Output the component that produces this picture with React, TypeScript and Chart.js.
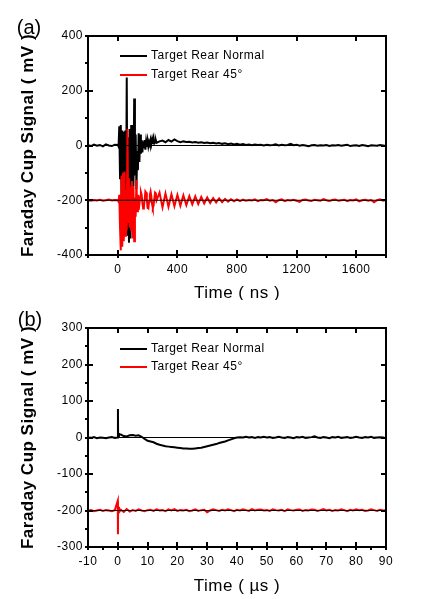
import React, { useEffect, useRef } from "react";
import { Chart, registerables } from "chart.js";

Chart.register(...registerables);

const FONT = "'Liberation Sans', Arial, sans-serif";

// ---------- Panel (a): time in ns ----------
const legendLabels = ["Target Rear Normal", "Target Rear 45°"];
const seriesColors = ["#000000", "#ff0000"];

const xTicksA = [0, 400, 800, 1200, 1600];
const xMinorA = [-200, 200, 600, 1000, 1400, 1800];
const yTicksA = [-400, -200, 0, 200, 400];
const yMinorA = [-300, -100, 100, 300];
const xRangeA = [-200, 1800];
const yRangeA = [-400, 400];
const baselinesA = [0, -200];

const timePreA = [-200, -180, -160, -140, -120, -100, -80, -60, -40, -20];
// burst sampled 0..260 ns every 5 ns, tail 280..1800 ns every 20 ns
const normalPreA = [1, -2, 3, -1, 2, -3, 4, 0, -2, 3];
const normalBurstA = [
  2, -4, 70, -120, 75, -190, 55, -230, 50, -160,
  55, -280, 248, -330, 30, -355, 60, -340, 75, -200,
  -60, -150, 172, -110, 40, -160, -20, -90, 45, -60,
  40, -30, 20, -25, 15, -10, 20, -15, 15, -5,
  18, -3, 12, 2, 20, 5, 22, 6, 25, 8,
  12, 20, 10,
];
const normalTailA = [
  15, 18, 12, 20, 14, 22, 16, 12, 15, 13,
  14, 11, 13, 10, 12, 9, 11, 8, 10, 7,
  9, 6, 8, 5, 7, 4, 6, 3, 5, 2,
  4, 1, 4, 2, 3, 0, 3, 1, 2, 4,
  0, 3, 1, 2, 6, 1, 3, -1, 2, 0,
  -3, 1, 2, -1, 1, 0, 2, -2, 1, 0,
  2, -1, 1, 3, -2, 0, 1, -2, 2, 0,
  -3, 1, 0, -1, 2, 0, -2,
];
const rearPreA = [-200, -202, -199, -201, -198, -202, -200, -197, -201, -199];
const rearBurstA = [
  -200, -205, -180, -300, -383, -110, -370, -100, -350, -95,
  -330, -160, -310, 60, -280, -120, -300, -150, -310, -130,
  -340, -150, -350, -190, -260, -125, -240, -180,
  -235, -215, -185, -170, -180, -210, -230, -225, -200, -168,
  -172, -200, -228, -230, -205, -180, -168, -185, -215, -228,
  -220, -195, -172, -175, -200,
];
const rearTailA = [
  -172, -226, -175, -224, -178, -222, -180, -220, -182, -218,
  -185, -215, -186, -214, -188, -212, -190, -210, -192, -208,
  -193, -207, -195, -205, -196, -204, -197, -203, -198, -202,
  -199, -201, -197, -203, -199, -200, -196, -202, -199, -207,
  -200, -197, -203, -199, -201, -198, -202, -206, -199, -197,
  -201, -203, -198, -200, -202, -196, -200, -203, -199, -197,
  -202, -200, -198, -203, -199, -201, -197, -204, -200, -198,
  -202, -199, -207, -200, -197, -202, -199,
];

// ---------- Panel (b): time in µs ----------
const xTicksB = [-10, 0, 10, 20, 30, 40, 50, 60, 70, 80, 90];
const xMinorB = [-5, 5, 15, 25, 35, 45, 55, 65, 75, 85];
const yTicksB = [-300, -200, -100, 0, 100, 200, 300];
const yMinorB = [-250, -150, -50, 50, 150, 250];
const xRangeB = [-10, 90];
const yRangeB = [-300, 300];
const baselinesB = [0, -200];

const timeSpikeB = [0, 0.05, 0.1, 0.4];
const normalPreB = [0, -1, 1, -2, 0, -1, -2, 0, 1, -1];
const normalSpikeB = [0, 78, 12, 8];
const normalTailB = [
  8, 4, 3, 6, 7, 5, 6, 2, -4, -9,
  -11, -13, -17, -20, -22, -24, -25, -26, -27, -28,
  -29, -30, -30, -31, -31, -30, -29, -28, -26, -24,
  -22, -20, -18, -15, -13, -11, -8, -5, -2, 0,
  1, 0, 2, 0, 1, -1, 1, 0, 2, 0,
  1, -1, 0, 2, 0, -1, 1, 0, -2, 1,
  0, 2, -1, 0, 1, 3, 0, -1, 1, 0,
  -2, 1, 0, 2, -1, 0, 1, -1, 0, 2,
  0, -1, 1, 0, 2, -1, 0, 1, 0, -2,
];
const rearPreB = [-201, -199, -202, -200, -198, -201, -199, -200, -202, -199];
const rearSpikeB = [-173, -265, -190, -205];
const rearTailB = [
  -198, -204, -196, -203, -199, -201, -197, -200, -202, -199,
  -198, -201, -197, -200, -199, -202, -197, -200, -196, -201,
  -199, -200, -198, -202, -200, -197, -201, -199, -198, -205,
  -200, -197, -199, -201, -198, -200, -197, -199, -202, -198,
  -200, -197, -199, -201, -196, -200, -198, -197, -200, -199,
  -201, -197, -199, -200, -198, -202, -197, -199, -200, -198,
  -197, -201, -199, -200, -197, -198, -201, -199, -196, -200,
  -198, -201, -199, -200, -197, -199, -202, -198, -200, -197,
  -199, -198, -201, -200, -197, -199, -201, -198, -200, -199,
];

function steps(a: number, b: number, s: number): number[] {
  const out: number[] = [];
  for (let t = a; t <= b + 1e-9; t += s) out.push(Math.round(t * 100) / 100);
  return out;
}

const timeA = [...timePreA, ...steps(0, 260, 5), ...steps(280, 1800, 20)];
const normalA = [...normalPreA, ...normalBurstA, ...normalTailA];
const rearA = [...rearPreA, ...rearBurstA, ...rearTailA];

const timeB = [...steps(-10, -1, 1), ...timeSpikeB, ...steps(1, 90, 1)];
const normalB = [...normalPreB, ...normalSpikeB, ...normalTailB];
const rearB = [...rearPreB, ...rearSpikeB, ...rearTailB];

const pts = (xs: number[], ys: number[]) => xs.map((x, i) => ({ x, y: ys[i] }));

type Panel = {
  times: number[];
  normal: number[];
  rear: number[];
  xRange: number[];
  yRange: number[];
  xTicks: number[];
  yTicks: number[];
  xMinor: number[];
  yMinor: number[];
  baselines: number[];
  xTitle: string;
  label: string;
  height: number;
  padTop: number;
  xAxisH: number;
  xTitlePad: number;
  legendY: number[];
  labelPos: number[];
};

const panels: Panel[] = [
  {
    times: timeA, normal: normalA, rear: rearA,
    xRange: xRangeA, yRange: yRangeA, xTicks: xTicksA, yTicks: yTicksA,
    xMinor: xMinorA, yMinor: yMinorA, baselines: baselinesA,
    xTitle: "Time ( ns )", label: "(a)",
    height: 300, padTop: 36, xAxisH: 45, xTitlePad: 0,
    legendY: [56, 75], labelPos: [29, 28],
  },
  {
    times: timeB, normal: normalB, rear: rearB,
    xRange: xRangeB, yRange: yRangeB, xTicks: xTicksB, yTicks: yTicksB,
    xMinor: xMinorB, yMinor: yMinorB, baselines: baselinesB,
    xTitle: "Time ( \u00b5s )", label: "(b)",
    height: 299, padTop: 28, xAxisH: 52, xTitlePad: 6.2,
    legendY: [49, 67], labelPos: [30, 20],
  },
];

const decorPlugin = {
  id: "decor",
  beforeDraw(chart: any) {
    chart.ctx.letterSpacing = "0.5px";
  },
  afterDraw(chart: any, _args: any, o: any) {
    const { ctx, chartArea, scales } = chart;
    const { left, right, top, bottom } = chartArea;
    const x = scales.x;
    const y = scales.y;
    ctx.save();
    ctx.strokeStyle = "#000";
    ctx.lineWidth = 2;
    ctx.strokeRect(left, top, right - left, bottom - top);
    ctx.beginPath();
    for (const t of x.ticks) {
      const px = Math.round(x.getPixelForValue(t.value));
      ctx.moveTo(px, bottom + 3);
      ctx.lineTo(px, bottom - 5);
      ctx.moveTo(px, top);
      ctx.lineTo(px, top + 5);
    }
    for (const v of o.xMinor) {
      const px = Math.round(x.getPixelForValue(v));
      ctx.moveTo(px, bottom);
      ctx.lineTo(px, bottom + 3);
    }
    for (const t of y.ticks) {
      const py = Math.round(y.getPixelForValue(t.value));
      ctx.moveTo(left - 3, py);
      ctx.lineTo(left + 5, py);
      ctx.moveTo(right - 5, py);
      ctx.lineTo(right, py);
    }
    for (const v of o.yMinor) {
      const py = Math.round(y.getPixelForValue(v));
      ctx.moveTo(left - 3, py);
      ctx.lineTo(left, py);
    }
    ctx.stroke();

    // legend inside the plot
    ctx.font = `12px ${FONT}`;
    ctx.textBaseline = "middle";
    ctx.textAlign = "left";
    o.legendY.forEach((ly: number, i: number) => {
      ctx.strokeStyle = seriesColors[i];
      ctx.lineWidth = 2;
      ctx.beginPath();
      ctx.moveTo(left + 32, ly);
      ctx.lineTo(left + 59, ly);
      ctx.stroke();
      ctx.fillStyle = "#000";
      ctx.fillText(legendLabels[i], left + 63, ly);
    });

    // panel label
    ctx.letterSpacing = "0px";
    ctx.font = `20px ${FONT}`;
    ctx.textAlign = "center";
    ctx.fillStyle = "#000";
    ctx.fillText(o.label, o.labelPos[0], o.labelPos[1]);
    ctx.restore();
  },
};

function PanelChart({ p, top }: { p: Panel; top: number }) {
  const ref = useRef<HTMLCanvasElement | null>(null);
  useEffect(() => {
    if (!ref.current) return;
    const lineDs = (label: string, data: any[], color: string, width: number, order: number) => ({
      label,
      data,
      borderColor: color,
      backgroundColor: color,
      borderWidth: width,
      pointRadius: 0,
      tension: 0,
      fill: false,
      order,
    });
    const chart = new Chart(ref.current, {
      type: "line",
      data: {
        datasets: [
          lineDs(legendLabels[0], pts(p.times, p.normal), seriesColors[0], 2, 3),
          lineDs(legendLabels[1], pts(p.times, p.rear), seriesColors[1], 2, 2),
          ...p.baselines.map((b) =>
            lineDs("base", [{ x: p.xRange[0], y: b }, { x: p.xRange[1], y: b }], "#000", 1, 1)
          ),
        ],
      },
      options: {
        animation: false,
        responsive: false,
        events: [],
        layout: { padding: { left: 0, top: p.padTop, right: 62, bottom: 0 } },
        plugins: {
          legend: { display: false },
          tooltip: { enabled: false },
          decor: { xMinor: p.xMinor, yMinor: p.yMinor, legendY: p.legendY, label: p.label, labelPos: p.labelPos },
        } as any,
        scales: {
          x: {
            type: "linear",
            min: p.xRange[0],
            max: p.xRange[1],
            afterBuildTicks: (s: any) => { s.ticks = p.xTicks.map((v) => ({ value: v })); },
            afterFit: (s: any) => { s.height = p.xAxisH; },
            grid: { display: false, drawTicks: false },
            border: { display: false },
            ticks: {
              padding: 7,
              color: "#000",
              autoSkip: false,
              maxRotation: 0,
              font: { family: FONT, size: 12 },
              callback: (v: any) => String(v),
            },
            title: {
              display: true,
              text: p.xTitle,
              color: "#000",
              font: { family: FONT, size: 17, lineHeight: 0.8 },
              padding: { top: 0, bottom: p.xTitlePad },
            },
          },
          y: {
            type: "linear",
            min: p.yRange[0],
            max: p.yRange[1],
            afterBuildTicks: (s: any) => { s.ticks = p.yTicks.map((v) => ({ value: v })); },
            afterFit: (s: any) => { s.width = 88; },
            grid: { display: false, drawTicks: false },
            border: { display: false },
            ticks: {
              padding: 5,
              color: "#000",
              autoSkip: false,
              font: { family: FONT, size: 12 },
              callback: (v: any) => String(v),
            },
            title: {
              display: true,
              text: "Faraday Cup Signal ( mV )",
              color: "#000",
              font: { family: FONT, size: 17, weight: "bold", lineHeight: 1 },
              padding: { top: 19.5, bottom: 0 },
            },
          },
        },
      } as any,
      plugins: [decorPlugin as any],
    });
    return () => chart.destroy();
  }, [p]);
  return (
    <canvas
      ref={ref}
      width={448}
      height={p.height}
      style={{ position: "absolute", left: 0, top, width: 448, height: p.height, display: "block" }}
    />
  );
}

export default function App() {
  return (
    <div style={{ position: "absolute", left: 0, top: 0, width: 448, height: 599, background: "#fff" }}>
      <PanelChart p={panels[0]} top={0} />
      <PanelChart p={panels[1]} top={300} />
    </div>
  );
}
